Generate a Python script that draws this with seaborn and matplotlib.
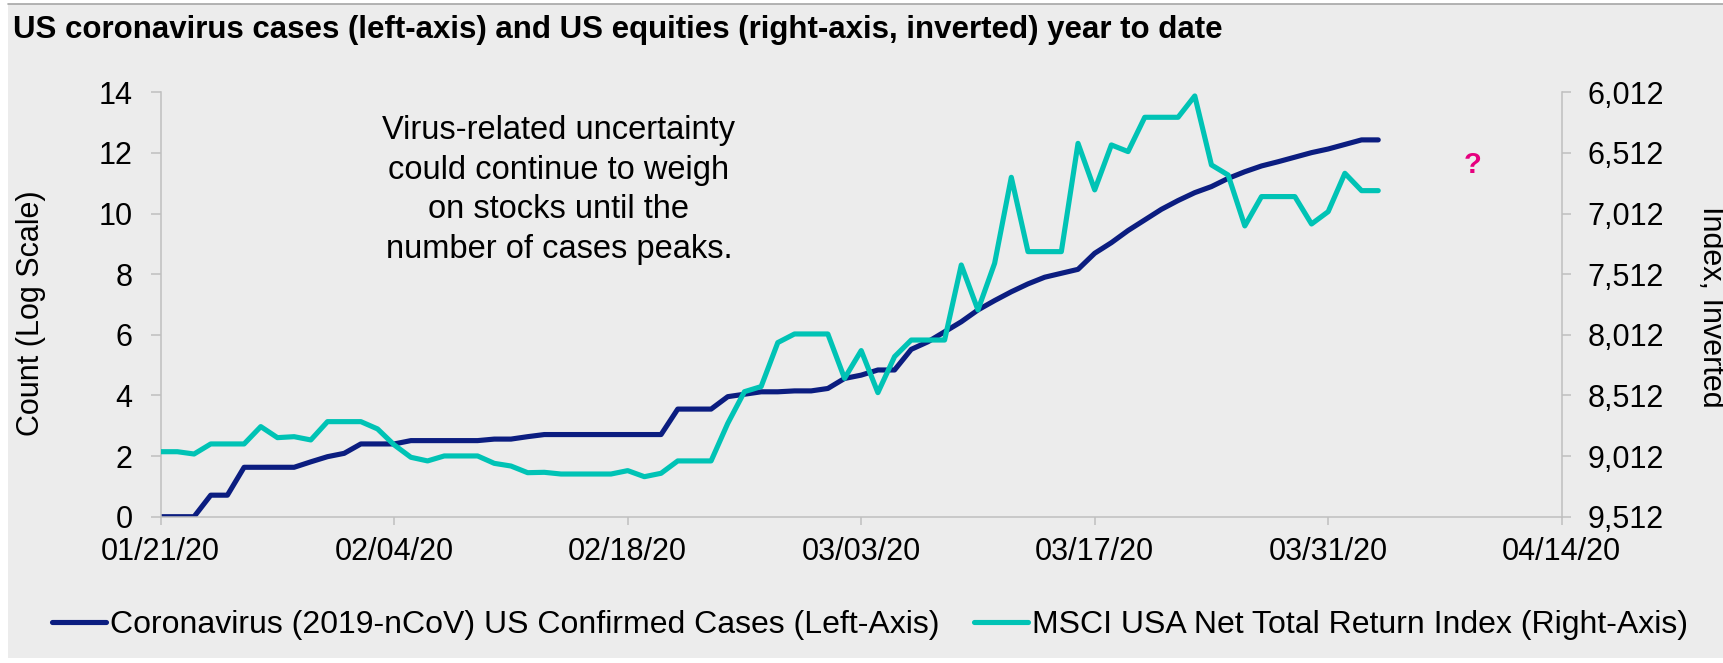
import numpy as np
import matplotlib
matplotlib.use("Agg")
import matplotlib.pyplot as plt
import matplotlib.dates as mdates
from matplotlib.patches import Rectangle
from matplotlib.ticker import FuncFormatter
import pandas as pd
import seaborn as sns

# natural log of US confirmed cases, one value per day from 01/21/20
cases_log = [0, 0, 0, 0.71, 0.71, 1.63, 1.63, 1.63, 1.63, 1.81,
             1.98, 2.09, 2.40, 2.40, 2.40, 2.51, 2.51, 2.51, 2.51, 2.51,
             2.56, 2.56, 2.64, 2.71, 2.71, 2.71, 2.71, 2.71, 2.71, 2.71,
             2.71, 3.55, 3.55, 3.55, 3.96, 4.04, 4.12, 4.12, 4.15, 4.15,
             4.23, 4.56, 4.67, 4.84, 4.84, 5.52, 5.77, 6.10, 6.43, 6.82,
             7.13, 7.42, 7.68, 7.90, 8.03, 8.16, 8.69, 9.04, 9.44, 9.79,
             10.14, 10.43, 10.69, 10.89, 11.16, 11.38, 11.57, 11.71, 11.86, 12.01,
             12.13, 12.28, 12.43, 12.43]

# MSCI USA net total return index, same days
msci = [8976, 8976, 8995, 8912, 8912, 8912, 8769, 8860, 8852, 8879,
        8728, 8728, 8728, 8788, 8920, 9022, 9052, 9011, 9011, 9011,
        9072, 9094, 9149, 9146, 9160, 9160, 9160, 9160, 9132, 9182,
        9154, 9052, 9052, 9052, 8742, 8481, 8439, 8076, 8005, 8005,
        8005, 8371, 8142, 8489, 8192, 8055, 8055, 8055, 7436, 7807,
        7422, 6713, 7326, 7326, 7326, 6433, 6817, 6446, 6501, 6218,
        6218, 6218, 6042, 6611, 6694, 7114, 6872, 6872, 6872, 7098,
        6996, 6680, 6823, 6823]

left_ticks = [0, 2, 4, 6, 8, 10, 12, 14]
right_ticks = [6012, 6512, 7012, 7512, 8012, 8512, 9012, 9512]
date_ticks = ["2020-01-21", "2020-02-04", "2020-02-18", "2020-03-03",
              "2020-03-17", "2020-03-31", "2020-04-14"]

cases_label = "Coronavirus (2019-nCoV) US Confirmed Cases (Left-Axis)"
msci_label = "MSCI USA Net Total Return Index (Right-Axis)"

df = pd.DataFrame({
    "date": pd.date_range("2020-01-21", periods=len(cases_log), freq="D"),
    "cases": cases_log,
    "msci": msci,
})

navy = "#0B1D80"
teal = "#00C3B5"
bg = "#ECECEC"
grey = "#BFBFBF"

sns.set_style("white")
plt.rcParams["font.family"] = ["Liberation Sans", "DejaVu Sans"]
plt.rcParams["text.color"] = "black"

W, H = 1723, 663
fig = plt.figure(figsize=(W / 100, H / 100), dpi=100, facecolor="white")
fig.patches.append(Rectangle((8 / W, 5 / H), 1, (654) / H, transform=fig.transFigure,
                             facecolor=bg, edgecolor="none", zorder=-10))
fig.add_artist(plt.Line2D([8 / W, 1], [1 - 4 / H, 1 - 4 / H], color="#A6A6A6", lw=1.2))

ax = fig.add_axes([160.7 / W, 1 - 516.7 / H, 1401 / W, 424.4 / H])
ax.set_facecolor("none")
ax2 = ax.twinx()
ax2.set_facecolor("none")

sns.lineplot(data=df, x="date", y="cases", ax=ax, color=navy, lw=3.7, label=cases_label,
             legend=False)
sns.lineplot(data=df, x="date", y="msci", ax=ax2, color=teal, lw=3.7, label=msci_label,
             legend=False)

ax.set_ylim(0, 14)
ax.set_yticks(left_ticks)
ax2.set_ylim(9512, 6012)
ax2.set_yticks(right_ticks)
ax2.yaxis.set_major_formatter(FuncFormatter(lambda v, p: f"{int(v):,}"))

xt = pd.to_datetime(date_ticks)
ax.set_xlim(xt[0], xt[-1])
ax.set_xticks(xt)
ax.xaxis.set_major_formatter(mdates.DateFormatter("%m/%d/%y"))

for a in (ax, ax2):
    a.set_xlabel("")
    a.set_ylabel("")
    for s in a.spines.values():
        s.set_color(grey)
        s.set_linewidth(1.1)
    a.spines["top"].set_visible(False)

ax.spines["right"].set_visible(False)
ax2.spines["left"].set_visible(False)
ax2.spines["bottom"].set_visible(False)

ax.tick_params(axis="y", left=True, length=7.2, width=1.1, color=grey, pad=13,
               labelsize=22, labelcolor="black")
ax.tick_params(axis="x", bottom=True, length=5.8, width=1.1, color=grey, pad=9,
               labelsize=22, labelcolor="black")
ax2.tick_params(axis="y", right=True, length=6.5, width=1.1, color=grey, pad=12,
                labelsize=22, labelcolor="black")

fig.text(31 / W, 1 - 313 / H, "Count (Log Scale)", rotation=90, ha="center",
         va="center", fontsize=22)
fig.text(1711 / W, 1 - 307 / H, "Index, Inverted", rotation=270, ha="center",
         va="center", fontsize=22)

fig.text(13 / W, 1 - 30 / H,
         "US coronavirus cases (left-axis) and US equities (right-axis, inverted) year to date",
         ha="left", va="center", fontsize=22.5, fontweight="bold")

fig.text(559 / W, 1 - 190 / H,
         "Virus-related uncertainty\ncould continue to weigh\non stocks until the\nnumber of cases peaks.",
         ha="center", va="center", multialignment="center", fontsize=23.5, linespacing=1.36)

fig.text(1473 / W, 1 - 165 / H, "?", color="#E6007E", fontsize=21, fontweight="bold",
         ha="center", va="center")

h1, l1 = ax.get_legend_handles_labels()
h2, l2 = ax2.get_legend_handles_labels()
fig.legend(h1 + h2, l1 + l2, loc="center left", bbox_to_anchor=(52 / W, 1 - 625 / H),
           ncol=2, frameon=False, fontsize=23, handlelength=1.7, handletextpad=0.13,
           columnspacing=1.05, borderaxespad=0, borderpad=0)

fig.savefig("out.png", dpi=100, facecolor=fig.get_facecolor())
